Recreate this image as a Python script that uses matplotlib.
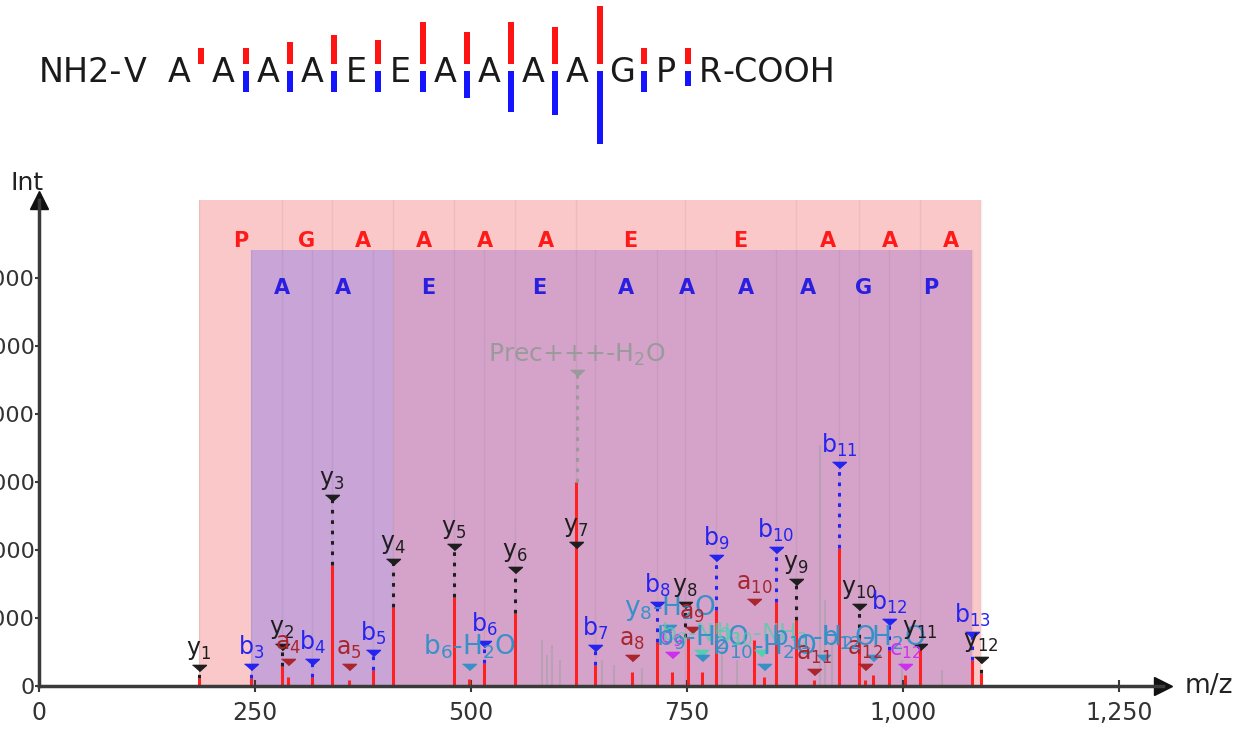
import matplotlib
matplotlib.use("Agg")
import matplotlib.pyplot as plt
import numpy as np

plt.rcParams['font.family'] = ['DejaVu Sans']
plt.rcParams['mathtext.fontset'] = 'dejavusans'

# ---- peptide sequence and fragment coverage bars ----
residues = ['V', 'A', 'A', 'A', 'A', 'E', 'E', 'A', 'A', 'A', 'A', 'G', 'P', 'R']
site_y_bar = [16, 16, 22, 29, 24, 42, 32, 42, 37, 58, 16, 16]
site_b_bar = [0, 21, 21, 21, 21, 21, 27, 41, 44, 73, 21, 15]

# ---- spectrum peaks ----
peak_mz = [184.8, 245.3, 281.2, 288.1, 315.9, 339.0, 358.7, 386.4, 409.6, 480.2,
           497.5, 514.9, 550.7, 621.3, 643.3, 686.1, 715.0, 732.4, 750.9, 767.1,
           783.3, 827.3, 838.8, 852.7, 875.9, 896.7, 925.6, 948.7, 955.7, 964.9,
           983.5, 1002.0, 1019.3, 1079.5, 1089.9]
peak_int = [118, 118, 294, 132, 132, 1779, 88, 235, 1161, 1308,
            103, 338, 1073, 2999, 309, 206, 647, 206, 720, 206,
            1117, 676, 132, 1235, 970, 88, 2029, 706, 88, 162,
            529, 162, 573, 382, 191]

noise_mz = [582.0, 587.8, 593.6, 602.8, 651.4, 665.3, 697.7, 790.2, 807.6,
            903.6, 909.4, 917.5, 998.5, 1044.8]
noise_int = [676, 456, 603, 382, 382, 309, 265, 529, 382,
             3543, 1264, 676, 382, 235]

# ---- ion ladders used for the coloured bands ----
y_ion_mz = [184.8, 281.2, 339.0, 409.6, 480.2, 550.7, 621.3, 747.4, 875.9,
            948.7, 1019.3, 1089.9]
y_band_letters = ['P', 'G', 'A', 'A', 'A', 'A', 'E', 'E', 'A', 'A', 'A']
b_ion_mz = [245.3, 315.9, 386.4, 514.9, 643.3, 715.0, 783.3, 852.7, 925.6,
            983.5, 1079.5]
b_band_letters = ['A', 'A', 'E', 'E', 'A', 'A', 'A', 'A', 'G', 'P']

# ---- annotations ----
ann_text = ['y$_1$', 'b$_3$', 'y$_2$', 'a$_4$', 'b$_4$', 'y$_3$', 'a$_5$', 'b$_5$',
            'y$_4$', 'y$_5$', 'b$_6$-H$_2$O', 'b$_6$', 'y$_6$', 'y$_7$',
            'Prec+++-H$_2$O', 'b$_7$', 'a$_8$', 'y$_8$-H$_2$O', 'c$_9$', 'b$_8$',
            'y$_8$', 'a$_9$', 'b$_9$-NH$_3$', 'b$_9$-H$_2$O', 'b$_9$', 'a$_{10}$',
            'b$_{10}$-NH$_3$', 'b$_{10}$-H$_2$O', 'b$_{10}$', 'y$_9$', 'a$_{11}$',
            'b$_{11}$-H$_2$O', 'b$_{11}$', 'y$_{10}$', 'a$_{12}$', 'b$_{12}$-H$_2$O',
            'b$_{12}$', 'c$_{12}$', 'y$_{11}$', 'b$_{13}$', 'y$_{12}$']
ann_mz = [184.8, 245.3, 281.2, 288.1, 315.9, 339.0, 358.7, 386.4,
          409.6, 480.2, 497.5, 514.9, 550.7, 621.3,
          622.5, 643.3, 686.1, 729.4, 732.4, 715.0,
          747.4, 755.3, 766.3, 767.1, 783.3, 827.3,
          835.7, 838.8, 852.7, 875.9, 896.7,
          907.6, 925.6, 948.7, 955.7, 965.5,
          983.5, 1002.0, 1019.3, 1079.5, 1089.9]
ann_mark = [265, 279, 573, 353, 353, 2764, 279, 485,
            1823, 2043, 279, 617, 1705, 2073,
            4600, 558, 411, 850, 456, 1190,
            1190, 820, 480, 411, 1881, 1234,
            480, 279, 1999, 1528, 206,
            411, 3248, 1161, 279, 411,
            941, 279, 573, 750, 382]
ann_kind = ['y', 'b', 'y', 'a', 'b', 'y', 'a', 'b',
            'y', 'y', 'w', 'b', 'y', 'y',
            'p', 'b', 'a', 'w', 'c', 'b',
            'y', 'a', 'n', 'w', 'b', 'a',
            'n', 'w', 'b', 'y', 'a',
            'w', 'b', 'y', 'a', 'w',
            'b', 'c', 'y', 'b', 'y']

kind_color = {'y': '#1e1e1e', 'b': '#2424f0', 'a': '#a8262c', 'w': '#3791c8',
              'c': '#cc30ee', 'n': '#52cfae', 'p': '#9a9a9a'}
kind_size = {'y': 17, 'b': 17, 'a': 17, 'c': 16, 'w': 19, 'n': 17, 'p': 18}
kind_alpha = {'y': 1, 'b': 1, 'a': 1, 'c': 1, 'w': 1, 'n': 0.75, 'p': 1}

W, H = 1241, 734
fig = plt.figure(figsize=(W / 100, H / 100), dpi=100)

# ---------------- sequence panel ----------------
ax_seq = fig.add_axes([0, 1 - 150 / H, 1, 150 / H])
ax_seq.set_xlim(-135 / 44.25, (W - 135) / 44.25)
ax_seq.set_ylim(150, 0)
ax_seq.axis('off')
for i, r in enumerate(residues):
    ax_seq.text(i, 82, r, ha='center', va='baseline', fontsize=24, color='#1a1a1a')
ax_seq.text(-0.3, 82, 'NH2-', ha='right', va='baseline', fontsize=24, color='#1a1a1a')
ax_seq.text(13.28, 82, '-COOH', ha='left', va='baseline', fontsize=24, color='#1a1a1a')
site_x = np.arange(len(site_y_bar)) + 1.5
ax_seq.bar(site_x, -np.array(site_y_bar), bottom=64, width=0.13, color='#ff1414')
ax_seq.bar(site_x, site_b_bar, bottom=71, width=0.13, color='#1414ff')

# ---------------- spectrum panel ----------------
ax = fig.add_axes([39 / W, 48 / H, (1163 - 39) / W, (686 - 200) / H])
ax.set_xlim(0, 1300.5)
ax.set_ylim(0, 7144)

band_top_b = (686 - 250) / (686 - 200)
ax.axvspan(y_ion_mz[0], y_ion_mz[-1], ymin=0, ymax=1, color='#fac8c8', lw=0, zorder=0)
ax.axvspan(b_ion_mz[0], y_ion_mz[3], ymin=0, ymax=band_top_b, color='#c8a4d7', lw=0, zorder=0.5)
ax.axvspan(y_ion_mz[3], b_ion_mz[-1], ymin=0, ymax=band_top_b, color='#d5a3ca', lw=0, zorder=0.5)
for m in y_ion_mz:
    ax.axvline(m, ymin=0, ymax=1, color='black', alpha=0.05, lw=1, zorder=0.6)
for m in b_ion_mz:
    ax.axvline(m, ymin=0, ymax=band_top_b, color='black', alpha=0.05, lw=1, zorder=0.6)

for k, letter in enumerate(y_band_letters):
    xm = (y_ion_mz[k] + y_ion_mz[k + 1]) / 2
    ax.text(xm, 0.916, letter, transform=ax.get_xaxis_transform(), ha='center',
            va='center', fontsize=15, fontweight='bold', color='#ff1a1a', zorder=3)
for k, letter in enumerate(b_band_letters):
    xm = (b_ion_mz[k] + b_ion_mz[k + 1]) / 2
    ax.text(xm, 0.819, letter, transform=ax.get_xaxis_transform(), ha='center',
            va='center', fontsize=15, fontweight='bold', color='#2a1ee0', zorder=3)

ax.vlines(noise_mz, 0, noise_int, color='#a0a0a0', alpha=0.55, lw=1.5, zorder=1)
ax.vlines(peak_mz, 0, peak_int, color='#ff2020', lw=2.2, zorder=2)

tri = [(-1, 0.45), (1, 0.45), (0, -0.45)]
pk_mz = np.array(peak_mz)
pk_int = np.array(peak_int)
for txt, m, mk, kind in zip(ann_text, ann_mz, ann_mark, ann_kind):
    col = kind_color[kind]
    j = np.argmin(np.abs(pk_mz - m))
    top = pk_int[j] if abs(pk_mz[j] - m) < 4 else 0
    if kind in ('y', 'b', 'p') and mk - top > 60:
        ax.plot([m, m], [top, mk], color=col, lw=2.2, ls=(0, (1.2, 2.2)), zorder=3)
    ax.plot(m, mk, marker=tri, ms=10, color=col, zorder=4, ls='none')
    ax.annotate(txt, (m, mk), xytext=(0, 4), textcoords='offset points',
                ha='center', va='bottom', fontsize=kind_size[kind], color=col,
                alpha=kind_alpha[kind], zorder=5)

for s in ('top', 'right'):
    ax.spines[s].set_visible(False)
for s in ('left', 'bottom'):
    ax.spines[s].set_linewidth(2.5)
    ax.spines[s].set_color('#3a3a3a')
ax.plot(0, 1, marker='^', ms=13, color='#111111', transform=ax.transAxes, clip_on=False)
ax.plot(1, 0, marker='>', ms=13, color='#111111', transform=ax.transAxes, clip_on=False)

ax.set_xticks([0, 250, 500, 750, 1000, 1250])
ax.set_xticklabels(['0', '250', '500', '750', '1,000', '1,250'])
ax.set_yticks([0, 1000, 2000, 3000, 4000, 5000, 6000])
ax.set_yticklabels(['0', '1,000', '2,000', '3,000', '4,000', '5,000', '6,000'])
ax.tick_params(axis='x', direction='inout', length=9, width=1.5, labelsize=17,
               colors='#3a3a3a', labelcolor='#333333', pad=6)
ax.tick_params(axis='y', direction='out', length=3, width=1.5, labelsize=16,
               colors='#3a3a3a', labelcolor='#333333', pad=0)

fig.text(27 / W, 1 - 183 / H, 'Int', ha='center', va='center', fontsize=18, color='#222222')
fig.text(1209 / W, 1 - 686 / H, 'm/z', ha='center', va='center', fontsize=19, color='#222222')

fig.savefig('out.png', dpi=100)
